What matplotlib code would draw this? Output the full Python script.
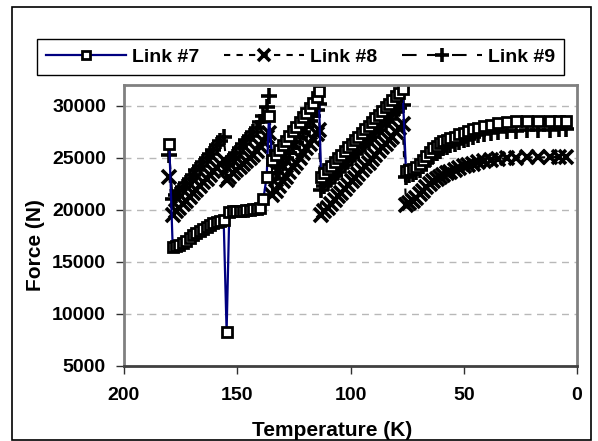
import matplotlib
matplotlib.use("Agg")
import matplotlib.pyplot as plt
from matplotlib.patches import Rectangle

plt.rcParams["font.family"] = ["Liberation Sans", "DejaVu Sans"]
plt.rcParams["font.weight"] = "bold"

# temperature samples (K), same for all three links
temps = [
    180,
    178.5, 177, 175.5, 174, 172.5, 171, 169.5, 168, 166.5, 165, 163.5, 162, 160.5, 159, 157.5, 156,
    154.7,
    153.5, 152, 150.5, 149, 147.5, 146, 144.5, 143, 141.5, 140, 138.5, 137, 136,
    134.5, 133, 131.5, 130, 128.5, 127, 125.5, 124, 122.5, 121, 119.5, 118, 116.5, 115, 114,
    113, 111.5, 110, 108.5, 107, 105.5, 104, 102.5, 101, 99.5, 98, 96.5, 95, 93.5, 92, 90.5,
    89, 87.5, 86, 84.5, 83, 81.5, 80, 78.5, 77,
    75.5, 74, 72.5, 71, 69.5, 68, 66.5, 65, 63.5, 62, 60.5, 59, 57.5, 56, 54, 52, 50, 48, 46,
    43.5, 41, 38, 35, 31, 27, 22, 17, 12, 8, 5,
]

# force (N)
link7 = [
    26300,
    16450, 16500, 16650, 16800, 17000, 17300, 17600, 17800, 17950, 18150, 18350, 18550, 18700, 18850, 18950, 19050,
    8300,
    19800, 19850, 19850, 19900, 19900, 19950, 20000, 20050, 20100, 20200, 21000, 23200, 29000,
    24800, 25300, 25750, 26200, 26650, 27100, 27550, 28000, 28450, 28900, 29350, 29800, 30300, 30850, 31400,
    23200, 23550, 23900, 24250, 24600, 24950, 25300, 25650, 26000, 26350, 26700, 27050, 27400, 27750, 28100, 28450,
    28800, 29150, 29500, 29850, 30200, 30550, 30900, 31250, 31600,
    23700, 23850, 23950, 24100, 24400, 24800, 25200, 25600, 25900, 26150, 26400, 26600, 26750, 26900, 27050, 27250,
    27400, 27550, 27750, 27900, 28050, 28200, 28350, 28450, 28500, 28500, 28500, 28500, 28500, 28550,
]
link8 = [
    23200,
    19500, 19850, 20200, 20550, 20900, 21250, 21600, 21950, 22300, 22650, 23000, 23350, 23700, 24050, 24400, 24750,
    22900,
    23200, 23500, 23800, 24100, 24400, 24700, 25000, 25300, 25700, 26100, 26600, 27000, 27400,
    21400, 21850, 22300, 22750, 23200, 23650, 24100, 24550, 25000, 25450, 25900, 26350, 26800, 27250, 27700,
    19500, 19850, 20200, 20600, 20950, 21300, 21650, 22000, 22400, 22750, 23100, 23450, 23850, 24200, 24550, 24900,
    25250, 25650, 26000, 26350, 26700, 27050, 27450, 27850, 28300,
    20500, 20700, 20900, 21150, 21500, 21850, 22200, 22500, 22750, 22950, 23150, 23350, 23500, 23650, 23850, 24050,
    24200, 24350, 24450, 24600, 24700, 24800, 24900, 24950, 25000, 25050, 25050, 25050, 25100, 25100,
]
link9 = [
    25300,
    21000, 21400, 21800, 22200, 22600, 23000, 23400, 23800, 24200, 24600, 25000, 25400, 25800, 26200, 26600, 27000,
    24300,
    24700, 25100, 25500, 25900, 26300, 26700, 27100, 27500, 27900, 28400, 29000, 29900, 30900,
    23000, 23500, 24000, 24500, 25000, 25500, 26000, 26500, 27000, 27500, 28000, 28500, 29000, 29600, 30200,
    21900, 22250, 22600, 22950, 23300, 23650, 24000, 24300, 24650, 25000, 25350, 25700, 26000, 26350, 26700, 27050,
    27400, 27700, 28050, 28400, 28750, 29100, 29400, 29750, 30100,
    23200, 23350, 23450, 23600, 23850, 24200, 24550, 24900, 25200, 25450, 25700, 25900, 26050, 26200, 26350, 26550,
    26700, 26850, 27000, 27150, 27300, 27400, 27500, 27550, 27600, 27650, 27700, 27700, 27750, 27800,
]

xticks = [200, 150, 100, 50, 0]
yticks = [5000, 10000, 15000, 20000, 25000, 30000]

W, H = 598, 441
fig = plt.figure(figsize=(W / 100, H / 100), dpi=100)
ax = fig.add_axes([124 / W, 1 - 366 / H, (577 - 124) / W, (366 - 85) / H])

# outer chart border
fig.patches.append(Rectangle((12 / W, 1 - 440 / H), (591 - 12) / W, (440 - 7) / H,
                             transform=fig.transFigure, fill=False, edgecolor="black", linewidth=1.2))

h8, = ax.plot(temps, link8, color="black", linestyle=(0, (3, 3)), linewidth=1.5,
              marker="x", markersize=10, markeredgewidth=2.6, label="Link #8")
h9, = ax.plot(temps, link9, color="black", linestyle=(0, (7, 5)), linewidth=1.5,
              marker="+", markersize=12, markeredgewidth=2.6, label="Link #9")
h7, = ax.plot(temps, link7, color="#000080", linewidth=1.6, marker="s", markersize=6.5,
              markerfacecolor="white", markeredgecolor="black", markeredgewidth=2, label="Link #7")

ax.set_xlim(200, 0)
ax.set_ylim(5000, 32000)
ax.set_xticks(xticks)
ax.set_yticks(yticks)
ax.tick_params(labelsize=14, width=1, colors="#303030", labelcolor="black")
ax.tick_params(axis="x", length=6, pad=9)
ax.tick_params(axis="y", length=6, pad=7)
for lab in ax.get_xticklabels() + ax.get_yticklabels():
    lab.set_fontweight("bold")

ax.grid(axis="y", color="#b8b8b8", linestyle=(0, (5, 4)), linewidth=1)
ax.set_axisbelow(True)
for side in ("left", "top", "right"):
    ax.spines[side].set_color("#808080")
    ax.spines[side].set_linewidth(2)
ax.spines["bottom"].set_color("#404040")
ax.spines["bottom"].set_linewidth(2)

ax.set_xlabel("Temperature (K)", fontsize=15, fontweight="bold")
ax.set_ylabel("Force (N)", fontsize=15, fontweight="bold")
ax.xaxis.set_label_coords(0.459, -0.196)
ax.yaxis.set_label_coords(-0.175, 0.43)

leg = fig.legend(handles=[h7, h8, h9], loc="center", bbox_to_anchor=(0.5025, 1 - 57 / H),
                 ncol=3, frameon=True, fancybox=False, framealpha=1, edgecolor="black",
                 prop={"size": 14, "weight": "bold"}, handlelength=4.1, handletextpad=0.3,
                 columnspacing=1.3, borderpad=0.45)
leg.get_frame().set_linewidth(1)
for lh in leg.legend_handles:
    lh.set_markersize(lh.get_markersize() * 0.85)

fig.savefig("out.png", dpi=100)
